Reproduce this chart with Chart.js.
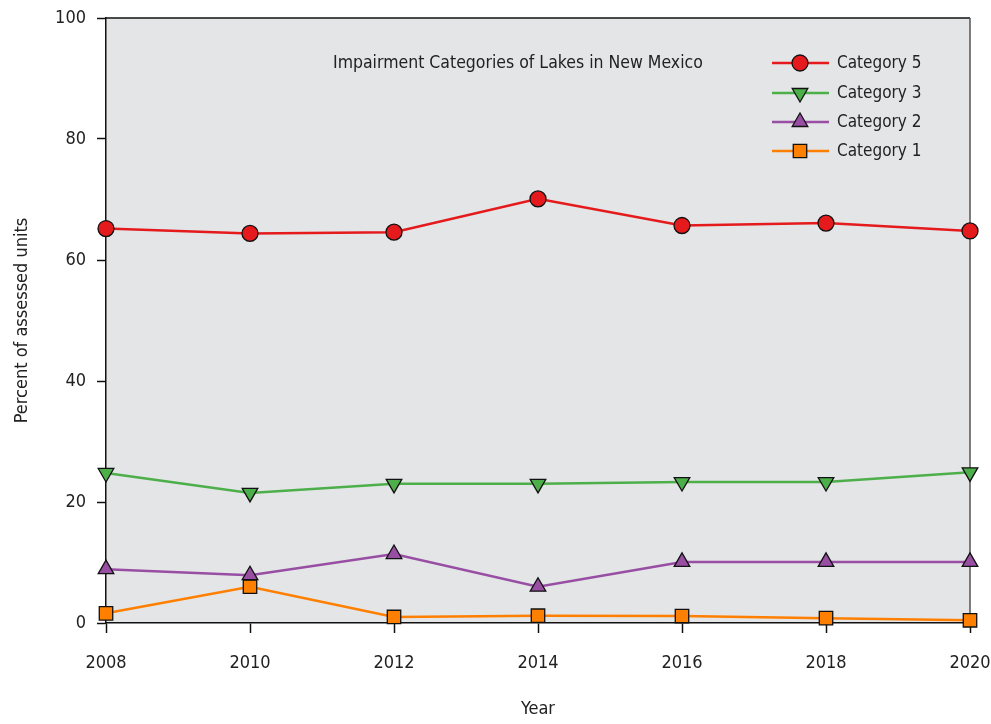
<!DOCTYPE html>
<html><head><meta charset="utf-8">
<script src="https://cdn.jsdelivr.net/npm/chart.js@4/dist/chart.umd.min.js"></script>
<style>html,body{margin:0;padding:0;background:#fff}#wrap{width:991px;height:724px}</style>
</head><body><div id="wrap"><canvas id="c" width="991" height="724"></canvas></div>
<script>
const years = ['2008','2010','2012','2014','2016','2018','2020'];
const cat5 = [65.2, 64.4, 64.6, 70.1, 65.7, 66.1, 64.8];
const cat3 = [24.8, 21.5, 23.0, 23.0, 23.3, 23.3, 24.9];
const cat2 = [8.9, 7.9, 11.4, 6.0, 10.1, 10.1, 10.1];
const cat1 = [1.6, 6.0, 1.0, 1.2, 1.15, 0.8, 0.45];
const yTicks = [0, 20, 40, 60, 80, 100];
const chartTitle = 'Impairment Categories of Lakes in New Mexico';
const xTitle = 'Year';
const yTitle = 'Percent of assessed units';

const FONT = "'Liberation Sans Narrow', 'DejaVu Sans Condensed', sans-serif";

function ds(label, data, color, style, rot, radius){
  return {label, data, borderColor: color, backgroundColor: color, borderWidth: 2.5,
    pointStyle: style, pointRotation: rot, pointRadius: radius, pointHoverRadius: radius,
    pointBackgroundColor: color, pointBorderColor: '#111', pointBorderWidth: 1.3, tension: 0, clip: false};
}

const bgPlugin = {
  id: 'bg',
  beforeDraw(chart){
    const {ctx, chartArea: a} = chart;
    ctx.save();
    ctx.fillStyle = '#e4e5e7';
    ctx.fillRect(a.left, a.top, a.right - a.left, a.bottom - a.top);
    ctx.restore();
  },
  beforeDatasetsDraw(chart){
    const {ctx, chartArea: a} = chart;
    ctx.save();
    ctx.lineWidth = 1.5;
    ctx.strokeStyle = '#111';
    ctx.beginPath(); ctx.moveTo(a.left, a.top); ctx.lineTo(a.right, a.top); ctx.stroke();
    ctx.strokeStyle = '#555';
    ctx.beginPath(); ctx.moveTo(a.right, a.top); ctx.lineTo(a.right, a.bottom); ctx.stroke();
    ctx.restore();
  },
  afterDraw(chart){
    const {ctx} = chart;
    ctx.save();
    ctx.font = '17.5px ' + FONT;
    ctx.fillStyle = '#222';
    ctx.textAlign = 'left'; ctx.textBaseline = 'middle';
    ctx.fillText(chartTitle, 333, 63);
    const rows = [63, 93, 122, 151];
    chart.data.datasets.forEach((d, i) => {
      const y = rows[i];
      ctx.strokeStyle = d.borderColor; ctx.lineWidth = 2.5;
      ctx.beginPath(); ctx.moveTo(772, y); ctx.lineTo(829, y); ctx.stroke();
      ctx.fillStyle = d.pointBackgroundColor; ctx.strokeStyle = d.pointBorderColor; ctx.lineWidth = d.pointBorderWidth;
      Chart.helpers.drawPoint(ctx, {pointStyle: d.pointStyle, rotation: d.pointRotation, radius: d.pointRadius, borderWidth: d.pointBorderWidth}, 800, y);
      ctx.fillStyle = '#222';
      ctx.font = '17px ' + FONT;
      ctx.fillText(d.label, 837, y + 1);
    });
    ctx.restore();
  }
};

new Chart(document.getElementById('c'), {
  type: 'line',
  data: {
    labels: years,
    datasets: [
      ds('Category 5', cat5, '#e41a1c', 'circle', 0, 8),
      ds('Category 3', cat3, '#4daf4a', 'triangle', 180, 9),
      ds('Category 2', cat2, '#984ea3', 'triangle', 0, 9),
      ds('Category 1', cat1, '#ff7f00', 'rect', 0, 9.5)
    ]
  },
  options: {
    responsive: false,
    animation: false,
    devicePixelRatio: 1,
    layout: {padding: {top: 18, right: 21, left: 12, bottom: 4}},
    plugins: {legend: {display: false}, tooltip: {enabled: false}, title: {display: false}},
    scales: {
      x: {
        type: 'category', offset: false,
        grid: {drawOnChartArea: false, tickLength: 10, tickColor: '#111', tickWidth: 1.5},
        border: {display: true, color: '#111', width: 1.5},
        ticks: {color: '#222', font: {family: FONT, size: 18}, padding: 20, maxRotation: 0},
        title: {display: true, text: xTitle, color: '#222', font: {family: FONT, size: 18}, padding: {top: 22, bottom: 0}},
        afterFit(s){ s.height = 724 - 623 - 4; s.paddingLeft = 0; s.paddingRight = 0; }
      },
      y: {
        min: 0, max: 100,
        afterBuildTicks(s){ s.ticks = yTicks.map(v => ({value: v})); },
        grid: {drawOnChartArea: false, tickLength: 9, tickColor: '#111', tickWidth: 1.5},
        border: {display: true, color: '#111', width: 1.5},
        ticks: {color: '#222', font: {family: FONT, size: 18}, padding: 11},
        title: {display: true, text: yTitle, color: '#222', font: {family: FONT, size: 18}, padding: {top: 0, bottom: 0}},
        afterFit(s){ s.width = 106 - 12; s.paddingTop = 0; s.paddingBottom = 0; }
      }
    }
  },
  plugins: [bgPlugin]
});
</script></body></html>
